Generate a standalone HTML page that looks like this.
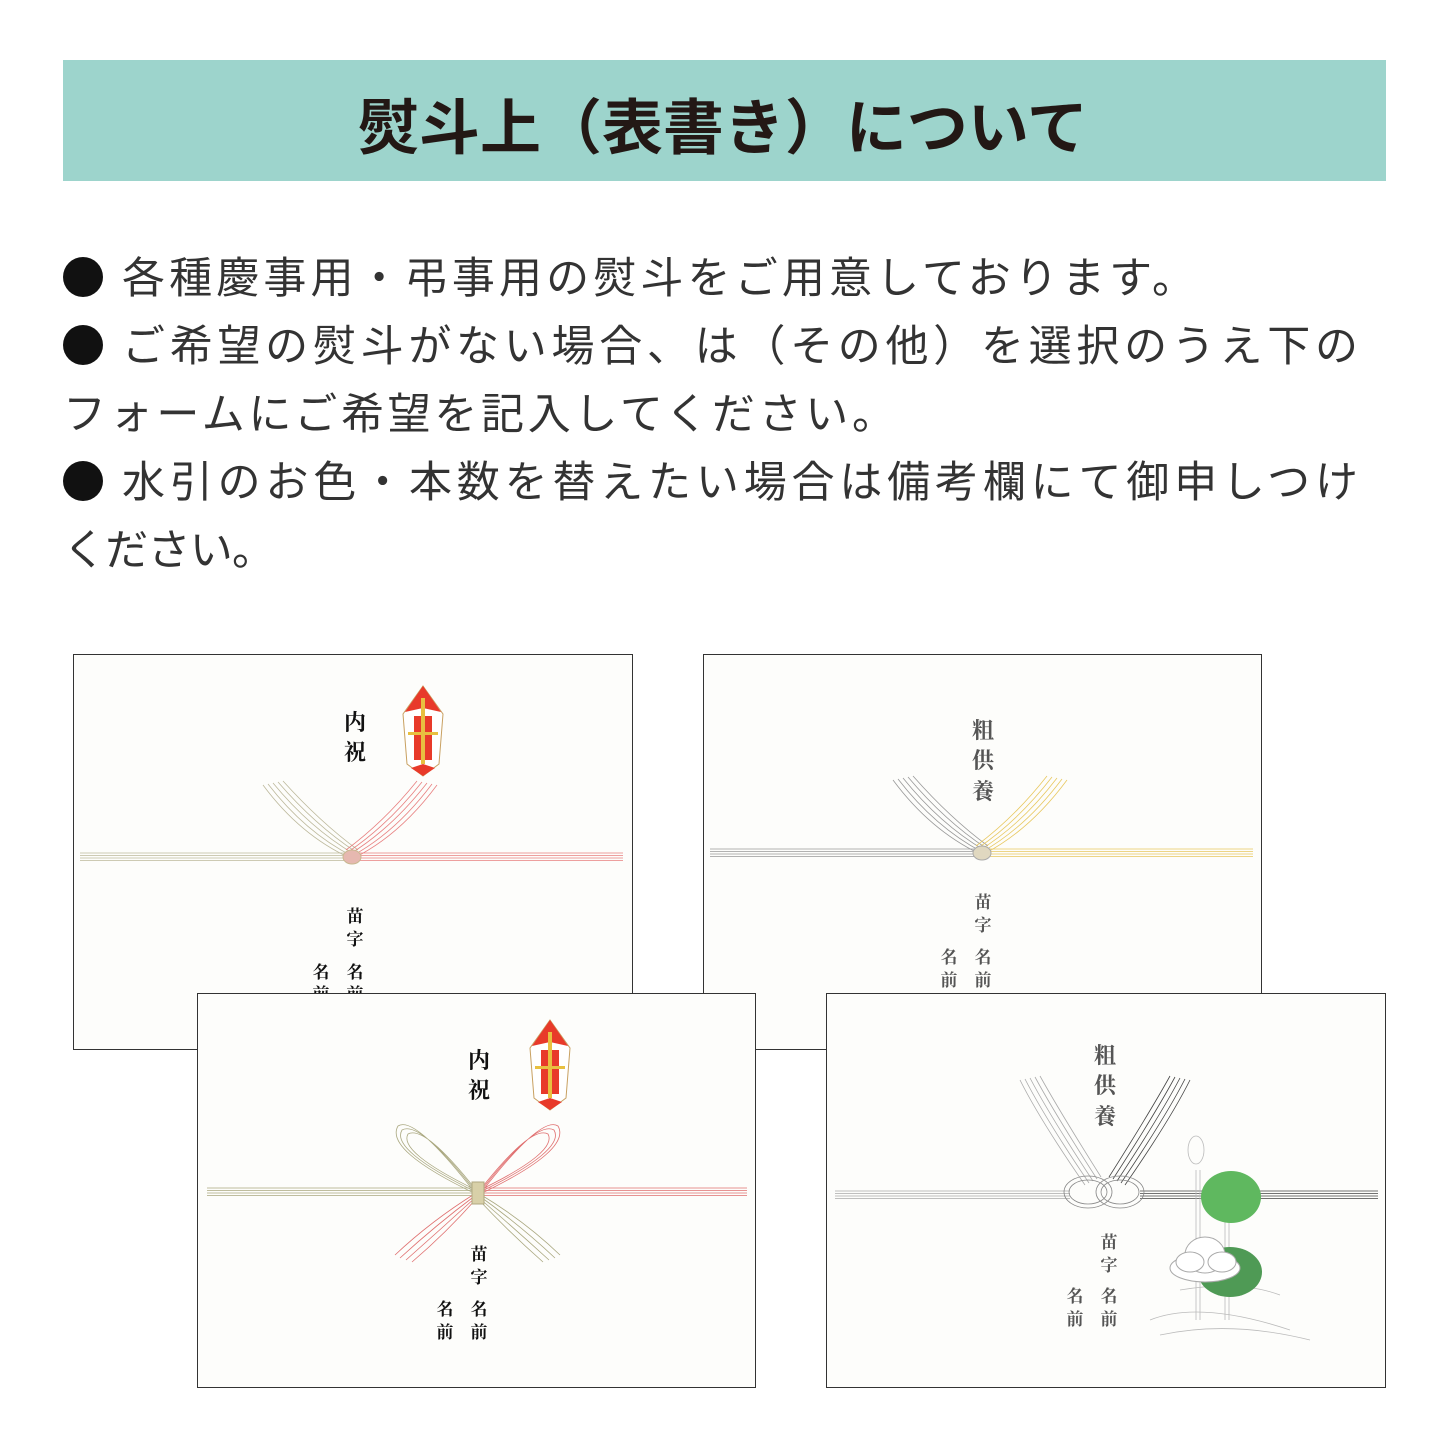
<!DOCTYPE html>
<html><head><meta charset="utf-8"><style>
html,body{margin:0;padding:0;background:#fff;}
svg{display:block}
.b{font-family:"Liberation Sans","Noto Sans CJK JP",sans-serif;}
.s{font-family:"Liberation Serif","Noto Serif CJK SC","Noto Sans CJK JP",serif;font-weight:bold;}
</style></head><body>
<svg width="1445" height="1445" viewBox="0 0 1445 1445" xmlns="http://www.w3.org/2000/svg">
<defs>
<g id="noshi">
 <polygon points="20,0 40,28 36,78 20,90 4,78 0,28" fill="#fff" stroke="#c8a060" stroke-width="1"/>
 <polygon points="20,0 38,26 20,22 2,26" fill="#e83a2a"/>
 <rect x="11" y="30" width="18" height="44" fill="#e83a2a"/>
 <rect x="18" y="12" width="4" height="66" fill="#e8c040"/>
 <rect x="5" y="46" width="30" height="3" fill="#e8c040"/>
 <polygon points="20,78 32,82 20,90 8,82" fill="#e83a2a"/>
</g>
</defs>
<rect width="1445" height="1445" fill="#fff"/>
<rect x="63" y="60" width="1323" height="121" fill="#9dd4cc"/>
<text x="358" y="149" textLength="730" lengthAdjust="spacingAndGlyphs" class="b" font-size="60" font-weight="bold" fill="#231815">熨斗上（表書き）について</text>
<g fill="#111"><circle cx="83" cy="277" r="20"/><circle cx="83" cy="345" r="20"/><circle cx="83" cy="481" r="20"/></g>
<g class="b" font-size="43" fill="#333">
<text x="122" y="293" textLength="1073">各種慶事用・弔事用の熨斗をご用意しております。</text>
<text x="122" y="361" textLength="1236">ご希望の熨斗がない場合、は（その他）を選択のうえ下の</text>
<text x="63" y="429" textLength="832">フォームにご希望を記入してください。</text>
<text x="122" y="497" textLength="1236">水引のお色・本数を替えたい場合は備考欄にて御申しつけ</text>
<text x="63" y="565" textLength="212">ください。</text>
</g>

<!-- card1 -->
<rect x="73.5" y="654.5" width="559" height="395" fill="#fdfdfb" stroke="#333"/>
<g fill="none" stroke-width="0.8">
<g stroke="#bdb99c"><path d="M80,853H350M80,855.5H350M80,858H350M80,860.5H350"/>
<path d="M350,858Q300,835 263,785M352,856Q305,832 268,784M354,854Q310,828 273,783M356,852Q315,825 278,782M358,850Q320,822 283,781"/></g>
<g stroke="#e88080"><path d="M356,853H623M356,855.5H623M356,858H623M356,860.5H623"/>
<path d="M354,858Q400,835 437,785M352,856Q396,832 432,784M350,854Q392,828 427,783M348,852Q388,825 422,782M346,850Q384,822 417,781"/></g>
</g>
<ellipse cx="352" cy="857" rx="9" ry="7" fill="#e6b8b0" stroke="#c9b890"/>
<use href="#noshi" x="403" y="686"/>
<g class="s" font-size="22" fill="#111" text-anchor="middle">
<text x="355" y="730">内</text><text x="355" y="760">祝</text>
<text x="355" y="922" font-size="17">苗</text><text x="355" y="945" font-size="17">字</text>
<text x="355" y="978" font-size="17">名</text><text x="355" y="1000" font-size="17">前</text>
<text x="321" y="978" font-size="17">名</text><text x="321" y="1000" font-size="17">前</text>
</g>

<!-- card2 -->
<rect x="703.5" y="654.5" width="558" height="395" fill="#fdfdfb" stroke="#333"/>
<g fill="none" stroke-width="0.8">
<g stroke="#999"><path d="M710,849H980M710,851.5H980M710,854H980M710,856.5H980"/>
<path d="M980,854Q930,830 893,780M982,852Q935,827 898,779M984,850Q940,824 903,778M986,848Q945,821 908,777M988,846Q950,818 913,776"/></g>
<g stroke="#e8c860"><path d="M986,849H1253M986,851.5H1253M986,854H1253M986,856.5H1253"/>
<path d="M984,854Q1030,830 1067,780M982,852Q1026,827 1062,779M980,850Q1022,824 1057,778M978,848Q1018,821 1052,777M976,846Q1014,818 1047,776"/></g>
</g>
<ellipse cx="982" cy="853" rx="9" ry="7" fill="#e0d8c0" stroke="#aaa"/>
<g class="s" font-size="22" fill="#555" text-anchor="middle">
<text x="983" y="738">粗</text><text x="983" y="768">供</text><text x="983" y="799">養</text>
<text x="983" y="908" font-size="17">苗</text><text x="983" y="931" font-size="17">字</text>
<text x="983" y="963" font-size="17">名</text><text x="983" y="986" font-size="17">前</text>
<text x="949" y="963" font-size="17">名</text><text x="949" y="986" font-size="17">前</text>
</g>

<!-- card3 -->
<rect x="197.5" y="993.5" width="558" height="394" fill="#fdfdfb" stroke="#333"/>
<g fill="none" stroke-width="0.8">
<g stroke="#aaa880"><path d="M207,1188H474M207,1190.5H474M207,1193H474M207,1195.5H474"/>
<path d="M476,1192Q420,1120 402,1130Q390,1150 476,1192M476,1190Q425,1125 408,1134Q398,1152 476,1190M476,1194Q415,1115 398,1126Q384,1150 476,1194"/>
<path d="M478,1195Q520,1225 555,1258M478,1197Q515,1229 549,1260M478,1199Q510,1233 543,1262M478,1193Q525,1221 560,1255"/></g>
<g stroke="#e07070"><path d="M482,1188H747M482,1190.5H747M482,1193H747M482,1195.5H747"/>
<path d="M480,1192Q536,1120 554,1130Q566,1150 480,1192M480,1190Q531,1125 548,1134Q558,1152 480,1190M480,1194Q541,1115 558,1126Q572,1150 480,1194"/>
<path d="M476,1195Q436,1225 400,1258M476,1197Q441,1229 406,1260M476,1199Q446,1233 412,1262M476,1193Q431,1221 395,1255"/></g>
</g>
<rect x="472" y="1182" width="12" height="22" fill="#d8d0a8" stroke="#b0a880"/>
<use href="#noshi" x="530" y="1020"/>
<g class="s" font-size="22" fill="#111" text-anchor="middle">
<text x="479" y="1068">内</text><text x="479" y="1098">祝</text>
<text x="479" y="1260" font-size="17">苗</text><text x="479" y="1283" font-size="17">字</text>
<text x="479" y="1315" font-size="17">名</text><text x="479" y="1338" font-size="17">前</text>
<text x="445" y="1315" font-size="17">名</text><text x="445" y="1338" font-size="17">前</text>
</g>

<!-- card4 -->
<rect x="826.5" y="993.5" width="559" height="394" fill="#fdfdfb" stroke="#333"/>
<g fill="none" stroke-width="0.8">
<g stroke="#aaa"><path d="M835,1191H1070M835,1193.5H1070M835,1196H1070M835,1198.5H1070"/>
<path d="M1085,1185Q1040,1120 1020,1080M1089,1183Q1045,1118 1025,1079M1093,1181Q1050,1116 1030,1078M1097,1179Q1055,1114 1035,1077M1101,1177Q1060,1112 1040,1076"/></g>
<g stroke="#444"><path d="M1140,1191H1378M1140,1193.5H1378M1140,1196H1378M1140,1198.5H1378"/>
<path d="M1125,1185Q1170,1120 1190,1080M1121,1183Q1165,1118 1185,1079M1117,1181Q1160,1116 1180,1078M1113,1179Q1155,1114 1175,1077M1109,1177Q1150,1112 1170,1076"/></g>
<g stroke="#888"><ellipse cx="1088" cy="1192" rx="24" ry="16"/><ellipse cx="1088" cy="1192" rx="19" ry="12"/><ellipse cx="1120" cy="1192" rx="24" ry="16"/><ellipse cx="1120" cy="1192" rx="19" ry="12"/></g>
<g stroke="#bbb"><path d="M1150,1320Q1200,1300 1290,1330M1160,1335Q1230,1320 1310,1340M1180,1290Q1240,1280 1280,1295"/>
<path d="M1196,1170V1320M1200,1170V1320M1225,1220V1320M1229,1220V1320"/>
<ellipse cx="1196" cy="1150" rx="8" ry="14"/></g>
</g>
<ellipse cx="1231" cy="1197" rx="30" ry="26" fill="#5fb85f"/>
<ellipse cx="1230" cy="1272" rx="32" ry="25" fill="#4f9a55"/>
<g fill="#fff" stroke="#aaa"><ellipse cx="1205" cy="1268" rx="35" ry="14"/><ellipse cx="1205" cy="1255" rx="20" ry="18"/><ellipse cx="1190" cy="1262" rx="14" ry="10"/><ellipse cx="1222" cy="1262" rx="14" ry="10"/></g>
<g class="s" font-size="22" fill="#555" text-anchor="middle">
<text x="1105" y="1063">粗</text><text x="1105" y="1093">供</text><text x="1105" y="1124">養</text>
<text x="1109" y="1248" font-size="17">苗</text><text x="1109" y="1271" font-size="17">字</text>
<text x="1109" y="1302" font-size="17">名</text><text x="1109" y="1325" font-size="17">前</text>
<text x="1075" y="1302" font-size="17">名</text><text x="1075" y="1325" font-size="17">前</text>
</g>
</svg>
</body></html>
